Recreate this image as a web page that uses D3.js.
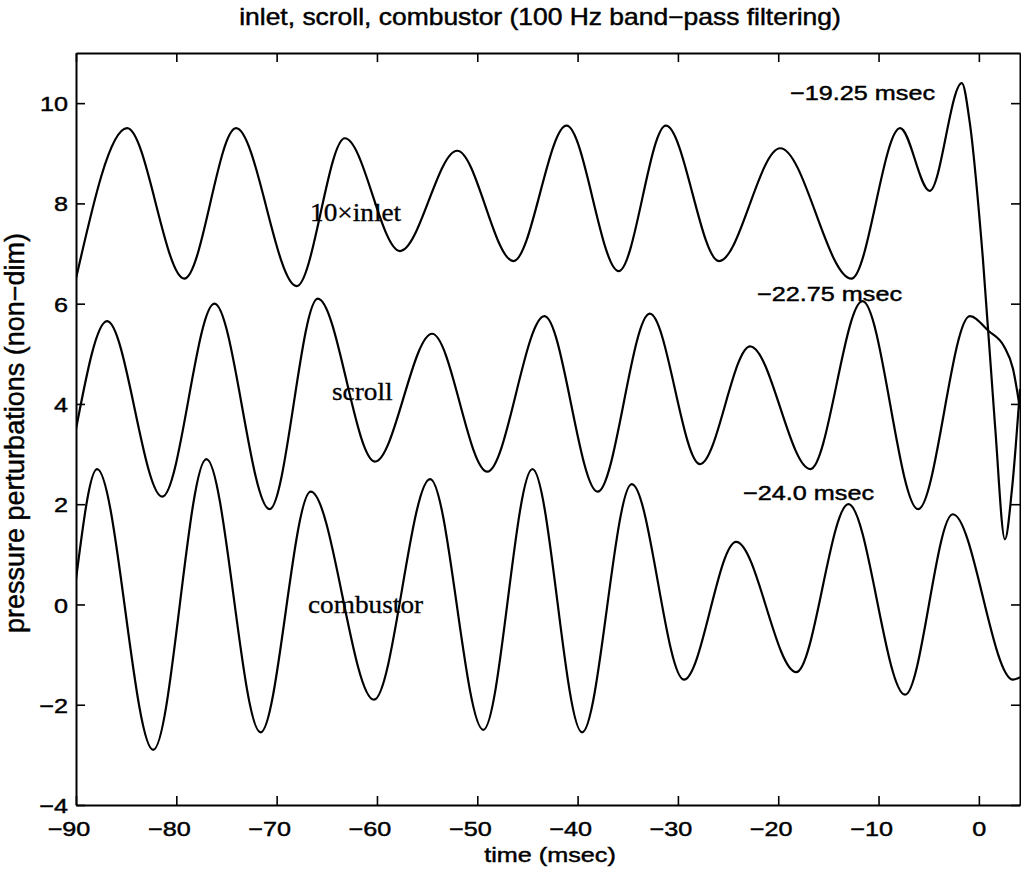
<!DOCTYPE html>
<html><head><meta charset="utf-8">
<script src="https://cdn.jsdelivr.net/npm/d3@7"></script>
<style>body{margin:0;background:#fff;} svg{display:block;}</style>
</head><body>
<svg id="chart" width="1021" height="871"></svg>
<script>
// ---- data ----
const xTicks = [-90, -80, -70, -60, -50, -40, -30, -20, -10, 0];
const yTicks = [-4, -2, 0, 2, 4, 6, 8, 10];

const inletTime  = [-90, -84.9, -79.2, -74.05, -68.0, -63.2, -57.7, -52.0, -46.4, -41.1, -35.9, -31.2, -25.9, -19.8, -12.7, -7.85, -4.9, -1.7, -0.9, 0.4, 1.6, 2.6, 3.3, 4.1];
const inletValue = [6.5, 9.5, 6.5, 9.5, 6.35, 9.3, 7.05, 9.05, 6.85, 9.55, 6.65, 9.55, 6.85, 9.1, 6.5, 9.5, 8.25, 10.4, 9.6, 6.9, 3.6, 1.3, 2.3, 4.3];

const scrollTime  = [-90, -86.9, -81.4, -76.2, -70.7, -65.9, -60.2, -54.5, -49, -43.3, -38, -32.8, -27.8, -22.8, -16.8, -11.6, -6.05, -0.9, 1.0, 2.5, 3.4, 4.1];
const scrollValue = [3.5, 5.65, 2.15, 6.0, 1.9, 6.1, 2.85, 5.4, 2.65, 5.75, 2.25, 5.8, 2.8, 5.15, 2.7, 6.05, 1.9, 5.75, 5.45, 5.15, 4.7, 3.9];

const combTime  = [-90, -87.9, -82.3, -77, -71.6, -66.6, -60.3, -54.7, -49.4, -44.5, -39.55, -34.6, -29.4, -24.2, -18.2, -13, -7.35, -2.6, 3.4, 4.1];
const combValue = [0.5, 2.7, -2.9, 2.9, -2.55, 2.25, -1.9, 2.5, -2.5, 2.7, -2.55, 2.4, -1.5, 1.25, -1.35, 2.0, -1.8, 1.8, -1.5, -1.45];

const titleText = "inlet, scroll, combustor (100 Hz band\u2212pass filtering)";
const xLabel = "time (msec)";
const yLabel = "pressure perturbations (non\u2212dim)";
const curveLabels = ["10\u00d7inlet", "scroll", "combustor"];
const delayLabels = ["\u221219.25 msec", "\u221222.75 msec", "\u221224.0 msec"];

// ---- layout ----
const L = 76, R = 1020, T = 53, B = 805;
const SX = 1.2; // horizontal stretch of the scanned lettering
const sans = "'Liberation Sans', Arial, Helvetica, sans-serif";
const serif = "'Liberation Serif', 'Times New Roman', serif";

const svg = d3.select("#chart");
const x = d3.scaleLinear().domain([-90, 4.1]).range([L, R]);
const y = d3.scaleLinear().domain([-4, 11]).range([B, T]);

svg.append("defs").append("clipPath").attr("id", "clip")
  .append("rect").attr("x", L).attr("y", T).attr("width", R - L).attr("height", B - T);

// curves
const line = d3.line().x(d => x(d[0])).y(d => y(d[1])).curve(d3.curveMonotoneX);
const series = [
  d3.zip(inletTime, inletValue),
  d3.zip(scrollTime, scrollValue),
  d3.zip(combTime, combValue)
];
svg.append("g").attr("clip-path", "url(#clip)")
  .selectAll("path").data(series).join("path")
  .attr("d", line).attr("fill", "none").attr("stroke", "#000").attr("stroke-width", 2.2);

// axes
const fmt = d3.format("d");
const gx = svg.append("g").attr("transform", `translate(0,${B})`)
  .call(d3.axisBottom(x).tickValues(xTicks).tickSize(-9).tickSizeOuter(0).tickFormat(fmt));
const gy = svg.append("g").attr("transform", `translate(${L},0)`)
  .call(d3.axisLeft(y).tickValues(yTicks).tickSize(-9).tickSizeOuter(0).tickFormat(fmt));
const gt = svg.append("g").attr("transform", `translate(0,${T})`)
  .call(d3.axisTop(x).tickValues(xTicks).tickSize(-9).tickSizeOuter(0).tickFormat(""));
const gr = svg.append("g").attr("transform", `translate(${R},0)`)
  .call(d3.axisRight(y).tickValues(yTicks).tickSize(-9).tickSizeOuter(0).tickFormat(""));

[gx, gy, gt, gr].forEach(g => {
  g.selectAll("path.domain").attr("stroke", "#000").attr("stroke-width", 2);
  g.selectAll(".tick line").attr("stroke", "#000").attr("stroke-width", 1.6);
});
const textStroke = 0.45;
// digits are centred on the tick, the minus sign hangs to the left
gx.selectAll(".tick text")
  .attr("font-family", sans).attr("font-size", 21).attr("fill", "#000")
  .attr("stroke", "#000").attr("stroke-width", textStroke)
  .attr("x", d => d < 0 ? -7.5 / SX : 0)
  .attr("y", 31).attr("dy", 0).attr("transform", `scale(${SX},1)`);
gy.selectAll(".tick text")
  .attr("font-family", sans).attr("font-size", 21).attr("fill", "#000")
  .attr("stroke", "#000").attr("stroke-width", textStroke)
  .attr("x", -8 / SX).attr("dy", "0.36em").attr("text-anchor", "end")
  .attr("transform", `scale(${SX},1)`);

function addText(str, px, py, anchor, size, family, sx, rot, stroke) {
  const g = svg.append("g").attr("transform",
    `translate(${px},${py})` + (rot ? ` rotate(${rot})` : "") + (rot ? ` scale(1,${sx})` : ` scale(${sx},1)`));
  g.append("text").text(str).attr("text-anchor", anchor)
    .attr("font-family", family).attr("font-size", size).attr("fill", "#000")
    .attr("stroke", stroke ? "#000" : "none").attr("stroke-width", stroke || 0);
}

addText(titleText, 540, 25, "middle", 23, sans, 1.15, 0, textStroke);
addText(xLabel, 550, 862, "middle", 21, sans, SX, 0, textStroke);
addText(yLabel, 24, 433, "middle", 27, sans, 1.0, -90, textStroke);

addText(curveLabels[0], 310, 221, "start", 26, serif, 1.05, 0, 0.3);
addText(curveLabels[1], 332, 400, "start", 26, serif, 1.05, 0, 0.3);
addText(curveLabels[2], 308, 613, "start", 26, serif, 1.05, 0, 0.3);

addText(delayLabels[0], 935, 100, "end", 21, sans, SX, 0, textStroke);
addText(delayLabels[1], 902, 301, "end", 21, sans, SX, 0, textStroke);
addText(delayLabels[2], 874, 500, "end", 21, sans, SX, 0, textStroke);
</script>
</body></html>
